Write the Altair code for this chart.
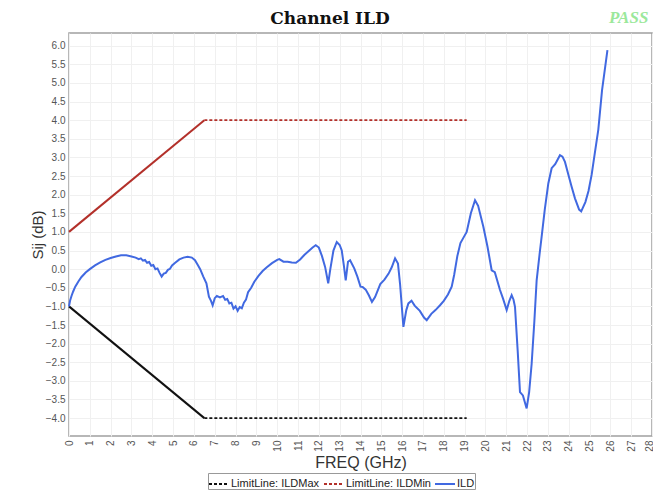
import altair as alt
import pandas as pd

# ---- data ----
freq = [0.0, 0.05, 0.12, 0.2, 0.3, 0.45, 0.6, 0.8, 1.0, 1.25, 1.5, 1.75, 2.0, 2.25, 2.5, 2.75,
        3.0, 3.2, 3.35, 3.45, 3.55, 3.65, 3.75, 3.85, 3.95, 4.05, 4.15, 4.25, 4.35, 4.45, 4.55,
        4.65, 4.75, 4.85, 4.95, 5.1, 5.3, 5.5, 5.7, 5.9, 6.05, 6.2, 6.3, 6.45, 6.6, 6.72, 6.82,
        6.9, 7.0, 7.1, 7.25, 7.4, 7.5, 7.6, 7.7, 7.8, 7.9, 8.0, 8.1, 8.2, 8.3, 8.4, 8.5, 8.6,
        8.75, 8.9, 9.1, 9.3, 9.5, 9.75, 10.0, 10.1, 10.3, 10.5, 10.7, 10.9, 11.1, 11.3, 11.5,
        11.7, 11.85, 12.0, 12.15, 12.3, 12.45, 12.55, 12.7, 12.86, 13.0, 13.1, 13.2, 13.29,
        13.4, 13.5, 13.7, 13.85, 14.0, 14.1, 14.25, 14.4, 14.55, 14.7, 14.95, 15.15, 15.35,
        15.5, 15.66, 15.8, 15.9, 16.06, 16.2, 16.3, 16.45, 16.6, 16.85, 17.05, 17.18, 17.4,
        17.6, 17.82, 18.0, 18.2, 18.38, 18.5, 18.65, 18.8, 19.0, 19.1, 19.3, 19.5, 19.65,
        19.9, 20.1, 20.3, 20.45, 20.7, 20.85, 21.02, 21.15, 21.26, 21.35, 21.42, 21.55, 21.66,
        21.8, 21.98, 22.1, 22.22, 22.35, 22.46, 22.6, 22.7, 22.85, 23.02, 23.18, 23.35, 23.58,
        23.7, 23.82, 24.0, 24.14, 24.3, 24.5, 24.6, 24.8, 24.95, 25.1, 25.25, 25.42, 25.6, 25.86]
ild = [-1.00, -0.85, -0.72, -0.60, -0.47, -0.33, -0.21, -0.09, 0.00, 0.10, 0.18, 0.25, 0.30,
       0.34, 0.37, 0.37, 0.34, 0.31, 0.27, 0.29, 0.23, 0.25, 0.17, 0.19, 0.09, 0.11, 0.00,
       0.02, -0.10, -0.20, -0.12, -0.10, -0.02, 0.01, 0.10, 0.17, 0.26, 0.31, 0.33, 0.31, 0.24,
       0.10, 0.00, -0.20, -0.38, -0.74, -0.85, -0.97, -0.78, -0.72, -0.76, -0.72, -0.82, -0.80,
       -0.92, -0.90, -1.06, -1.00, -1.12, -1.02, -1.05, -0.90, -0.82, -0.62, -0.50, -0.34,
       -0.18, -0.05, 0.05, 0.16, 0.25, 0.27, 0.20, 0.20, 0.18, 0.17, 0.26, 0.38, 0.48, 0.58,
       0.64, 0.58, 0.35, 0.06, -0.38, 0.00, 0.50, 0.73, 0.65, 0.50, 0.10, -0.30, 0.20, 0.24,
       0.02, -0.20, -0.47, -0.48, -0.55, -0.70, -0.88, -0.75, -0.40, -0.28, -0.12, 0.05, 0.29,
       0.15, -0.40, -1.55, -1.10, -0.92, -0.85, -0.98, -1.12, -1.30, -1.37, -1.20, -1.10,
       -0.97, -0.85, -0.68, -0.47, -0.15, 0.35, 0.70, 0.90, 1.00, 1.50, 1.85, 1.70, 1.14, 0.60,
       -0.03, -0.08, -0.56, -0.80, -1.10, -0.85, -0.70, -0.82, -1.01, -2.20, -3.30, -3.39,
       -3.74, -3.30, -2.54, -1.40, -0.30, 0.40, 0.87, 1.60, 2.30, 2.71, 2.82, 3.06, 3.02, 2.88,
       2.50, 2.21, 1.90, 1.60, 1.55, 1.80, 2.10, 2.53, 3.10, 3.74, 4.80, 5.88]

limit_freq = [0.0, 6.5, 19.1]
ild_max = [-1.0, -4.0, -4.0]
ild_min = [1.0, 4.0, 4.0]

series_names = ["LimitLine: ILDMax", "LimitLine: ILDMin", "ILD"]
series_colors = ["#111111", "#b3302a", "#4169e1"]
y_ticks = [-4.0 + 0.5 * i for i in range(21)]
x_ticks = list(range(0, 29))

# ---- tables ----
ild_df = pd.DataFrame({"freq": freq, "val": ild, "series": "ILD"})
slope_rows, flat_rows = [], []
for name, vals in [("LimitLine: ILDMax", ild_max), ("LimitLine: ILDMin", ild_min)]:
    for i in (0, 1):
        slope_rows.append({"freq": limit_freq[i], "val": vals[i], "series": name})
    for i in (1, 2):
        flat_rows.append({"freq": limit_freq[i], "val": vals[i], "series": name})
slope_df = pd.DataFrame(slope_rows)
flat_df = pd.DataFrame(flat_rows)

W, H = 583, 403

xs = alt.X("freq:Q", scale=alt.Scale(domain=[0, 28], nice=False, zero=False),
           axis=alt.Axis(values=x_ticks, labelAngle=270, title="FREQ (GHz)", format="d",
                         labelBaseline=alt.condition("datum.value >= 28",
                                                     alt.value("alphabetic"),
                                                     alt.value("middle"))))
ys = alt.Y("val:Q", scale=alt.Scale(domain=[-4.48, 6.34], nice=False, zero=False),
           axis=alt.Axis(values=y_ticks, format=".1f", title="Sij  (dB)"))
col = alt.Color("series:N", scale=alt.Scale(domain=series_names, range=series_colors),
                legend=alt.Legend(title=None))

slope = alt.Chart(slope_df).mark_line(strokeWidth=2).encode(
    x=xs, y=ys, color=col, detail="series:N")
flat = alt.Chart(flat_df).mark_line(strokeWidth=1.6).encode(
    x=xs, y=ys, color=col,
    strokeDash=alt.StrokeDash("series:N",
                              scale=alt.Scale(domain=series_names,
                                              range=[[3, 2], [3, 2], [1, 0]]),
                              legend=alt.Legend(title=None)))
ildline = alt.Chart(ild_df).mark_line(strokeWidth=2).encode(x=xs, y=ys, color=col)

title_df = pd.DataFrame({"t": ["Channel ILD"]})
pass_df = pd.DataFrame({"t": ["PASS"]})
title = alt.Chart(title_df).mark_text(font="DejaVu Serif", fontWeight="bold", fontSize=17,
                                      color="#111", align="center", baseline="middle").encode(
    text="t:N", x=alt.value(261), y=alt.value(-14))
passmark = alt.Chart(pass_df).mark_text(font="Liberation Serif", fontStyle="italic",
                                        fontWeight="bold", fontSize=17, color="#9be89b",
                                        align="left", baseline="middle").encode(
    text="t:N", x=alt.value(540), y=alt.value(-15))

chart = alt.layer(slope, flat, ildline, title, passmark).properties(
    width=W, height=H,
    autosize=alt.AutoSizeParams(type="none"),
    padding={"left": 61, "top": 25, "right": 1, "bottom": 55},
).configure_view(stroke="#a0a0a0", strokeWidth=1.5).configure_axis(
    grid=True, gridColor="#f0f0f0", gridWidth=1, domain=False, ticks=False,
    labelColor="#555555", labelFont="Liberation Sans", labelFontSize=10,
    titleFont="Liberation Sans", titleFontWeight="normal", titleColor="#333333",
).configure_axisY(labelPadding=4, titleFontSize=15, titlePadding=0).configure_axisX(
    labelPadding=4, titleFontSize=16, titlePadding=3, labelAlign="right"
).configure_legend(
    orient="none", legendX=139, legendY=440, direction="horizontal",
    strokeColor="#999999", padding=0, labelFont="Liberation Sans", labelFontSize=11,
    labelColor="#222", symbolType="stroke", symbolStrokeWidth=2, symbolSize=400,
    columnPadding=0, labelOffset=1, symbolOffset=0, labelLimit=200,
)

chart.save("out.html", embed_options={"renderer": "svg", "actions": False})
